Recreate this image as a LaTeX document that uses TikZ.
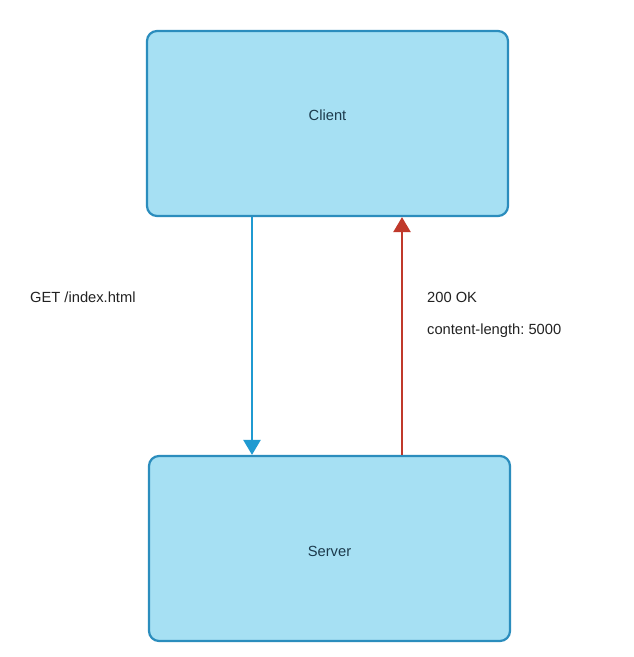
\documentclass[tikz,border=0pt]{standalone}
\usepackage{fontspec}
\setmainfont{Liberation Sans}
\usetikzlibrary{arrows.meta}
\frenchspacing
\definecolor{boxfill}{HTML}{A6E0F3}
\definecolor{boxline}{HTML}{2B8DBD}
\definecolor{reqcol}{HTML}{1F9AD1}
\definecolor{respcol}{HTML}{C0392B}
\definecolor{boxtext}{HTML}{1C3A4C}
\definecolor{labtext}{HTML}{222222}
\tikzset{
  hostbox/.style={draw=boxline, fill=boxfill, line width=2.2pt, rounded corners=10pt,
    minimum width=361pt, minimum height=185pt, inner sep=0pt},
  hosttext/.style={inner sep=0pt, font=\fontsize{14.7pt}{17pt}\selectfont, text=boxtext},
  lab/.style={anchor=west, inner sep=0pt, font=\fontsize{14.7pt}{17pt}\selectfont, text=labtext},
  reqarrow/.style={draw=reqcol, line width=2.4pt, -{Triangle[width=17pt,length=15pt]}},
  resparrow/.style={draw=respcol, line width=2.4pt, -{Triangle[width=17pt,length=15pt]}}
}
\begin{document}
\begin{tikzpicture}[x=1pt,y=-1pt]
\useasboundingbox[fill=white] (0,0) rectangle (633,657);
\node[hostbox] (client) at (327.5,123.5) {};
\node[hostbox] (server) at (329.5,548.5) {};
\node[hosttext] (clientlbl) at (327.5,115) {Client};
\node[hosttext] (serverlbl) at (329.5,551) {Server};
\coordinate (reqx) at (252,0);
\coordinate (respx) at (402,0);
\draw[reqarrow] (client.south -| reqx) -- (server.north -| reqx);
\draw[resparrow] (server.north -| respx) -- (client.south -| respx);
\node[lab] (get) at (30,297) {GET /index.html};
\node[lab] (ok) at (427,297) {200 OK};
\node[lab] (len) at (427,331) {content-length: 5000};
\end{tikzpicture}
\end{document}
